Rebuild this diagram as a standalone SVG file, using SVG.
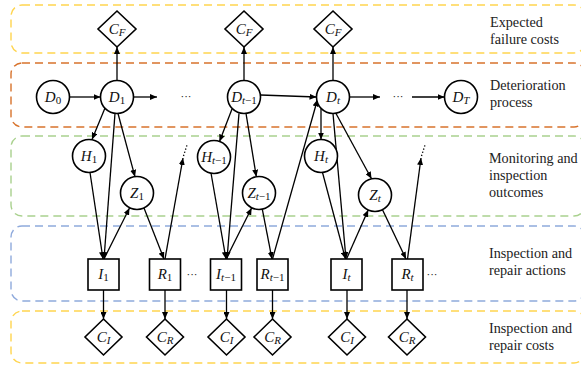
<svg xmlns="http://www.w3.org/2000/svg" width="581" height="365" viewBox="0 0 581 365">
<style>
.box{fill:none;stroke-width:1.4;stroke-dasharray:8 5}
.n{fill:#fff;stroke:#000;stroke-width:1.6}
.t{font-family:"Liberation Serif","Times New Roman",serif;font-size:15px;font-style:italic;text-anchor:middle;fill:#111}
.s{font-size:11px}
.u{font-style:normal}
.lab{font-family:"Liberation Serif","Times New Roman",serif;font-size:14.2px;fill:#222}
.e{fill:none;stroke:#000;stroke-width:1.3;marker-end:url(#ah)}
.d{fill:none;stroke:#000;stroke-width:1.3;stroke-dasharray:1.3 2}
.dots{font-family:"Liberation Sans",Arial,sans-serif;font-size:11px;fill:#222;text-anchor:middle}
</style>
<defs>
<marker id="ah" markerUnits="userSpaceOnUse" markerWidth="8" markerHeight="6" refX="7" refY="3" orient="auto">
<path d="M0,0 L7,3 L0,6 z" fill="#000"/>
</marker>
</defs>
<g id="lanes">
<rect class="box" x="11" y="5" width="574" height="48" rx="11" stroke="#FFD54F"/>
<rect class="box" x="11" y="63" width="574" height="64" rx="11" stroke="#D8732C"/>
<rect class="box" x="11" y="136" width="574" height="80" rx="11" stroke="#A9D18E"/>
<rect class="box" x="11" y="226" width="574" height="75" rx="11" stroke="#8FAADC"/>
<rect class="box" x="11" y="311" width="574" height="52" rx="11" stroke="#FFD54F"/>
</g>
<g id="lane-labels">
<text class="lab" x="490" y="27">Expected</text>
<text class="lab" x="490" y="44">failure costs</text>
<text class="lab" x="490" y="90">Deterioration</text>
<text class="lab" x="490" y="107">process</text>
<text class="lab" x="489" y="163">Monitoring and</text>
<text class="lab" x="489" y="180">inspection</text>
<text class="lab" x="489" y="197">outcomes</text>
<text class="lab" x="489" y="258">Inspection and</text>
<text class="lab" x="489" y="275">repair actions</text>
<text class="lab" x="489" y="333">Inspection and</text>
<text class="lab" x="489" y="350">repair costs</text>
</g>
<g id="connectors">
<line class="e" x1="69.5" y1="97" x2="100.5" y2="97"/>
<line class="e" x1="133.5" y1="97" x2="157" y2="97"/>
<line class="e" x1="260.5" y1="95" x2="316.5" y2="97"/>
<line class="e" x1="349.5" y1="97" x2="380" y2="97"/>
<line class="e" x1="412" y1="97" x2="444.5" y2="97"/>
<line class="e" x1="117" y1="80.5" x2="117" y2="47"/>
<line class="e" x1="244" y1="80.5" x2="244" y2="47"/>
<line class="e" x1="333" y1="80.5" x2="333" y2="47"/>
<line class="e" x1="105" y1="108" x2="92" y2="139.5"/>
<line class="e" x1="115" y1="113.4" x2="104" y2="259"/>
<line class="e" x1="118" y1="113.5" x2="135" y2="176.8"/>
<line class="e" x1="90" y1="172.5" x2="103" y2="259"/>
<line class="e" x1="104" y1="259" x2="129.5" y2="208"/>
<line class="e" x1="144" y1="208" x2="164" y2="259"/>
<line class="e" x1="165" y1="259" x2="183" y2="158"/>
<line class="d" x1="183.5" y1="156" x2="187" y2="145"/>
<line class="e" x1="232" y1="109" x2="219.5" y2="141.5"/>
<line class="e" x1="239" y1="113.4" x2="227" y2="259"/>
<line class="e" x1="246" y1="113.4" x2="256.3" y2="176.7"/>
<line class="e" x1="211" y1="173" x2="226" y2="259"/>
<line class="e" x1="226" y1="259" x2="251.6" y2="208"/>
<line class="e" x1="262.3" y1="209.2" x2="272" y2="259"/>
<line class="e" x1="272.5" y1="259" x2="317.5" y2="99.5"/>
<line class="e" x1="321" y1="108.5" x2="321" y2="139.5"/>
<line class="e" x1="333" y1="113.5" x2="346" y2="259"/>
<line class="e" x1="336" y1="113.5" x2="371.5" y2="178.8"/>
<line class="e" x1="322.5" y1="172.5" x2="345.5" y2="259"/>
<line class="e" x1="346.5" y1="259" x2="368.2" y2="210"/>
<line class="e" x1="382.5" y1="209.7" x2="406" y2="259"/>
<line class="e" x1="407.5" y1="259" x2="421" y2="158"/>
<line class="d" x1="421.5" y1="156" x2="425" y2="145"/>
<line class="e" x1="103.5" y1="290" x2="103.5" y2="319"/>
<line class="e" x1="165" y1="290" x2="165" y2="319"/>
<line class="e" x1="226.5" y1="290" x2="226.5" y2="319"/>
<line class="e" x1="272.5" y1="290" x2="272.5" y2="319"/>
<line class="e" x1="347" y1="290" x2="347" y2="319"/>
<line class="e" x1="407" y1="290" x2="407" y2="319"/>
</g>
<g id="ellipses">
<text class="dots" x="186" y="100">···</text>
<text class="dots" x="398" y="100">···</text>
<text class="dots" x="192" y="278">···</text>
<text class="dots" x="432" y="278">···</text>
</g>
<g id="CF1"><path class="n" d="M117,11 L136,29 L117,47 L98,29 z"/><text class="t" x="117" y="33.5">C<tspan class="s" dy="2.5">F</tspan></text></g>
<g id="CF2"><path class="n" d="M244,11 L263,29 L244,47 L225,29 z"/><text class="t" x="244" y="33.5">C<tspan class="s" dy="2.5">F</tspan></text></g>
<g id="CF3"><path class="n" d="M333,11 L352,29 L333,47 L314,29 z"/><text class="t" x="333" y="33.5">C<tspan class="s" dy="2.5">F</tspan></text></g>
<g id="D0"><circle class="n" cx="53" cy="97" r="16.5"/><text class="t" x="53" y="101.5">D<tspan class="s u" dy="2.5">0</tspan></text></g>
<g id="D1"><circle class="n" cx="117" cy="97" r="16.5"/><text class="t" x="117" y="101.5">D<tspan class="s u" dy="2.5">1</tspan></text></g>
<g id="Dtm1"><circle class="n" cx="244" cy="97" r="16.5"/><text class="t" x="244" y="101.5">D<tspan class="s" dy="2.5">t</tspan><tspan class="s u">−1</tspan></text></g>
<g id="Dt"><circle class="n" cx="333" cy="97" r="16.5"/><text class="t" x="333" y="101.5">D<tspan class="s" dy="2.5">t</tspan></text></g>
<g id="DT"><circle class="n" cx="461" cy="97" r="16.5"/><text class="t" x="461" y="101.5">D<tspan class="s" dy="2.5">T</tspan></text></g>
<g id="H1"><circle class="n" cx="89" cy="156" r="16.5"/><text class="t" x="89" y="160.5">H<tspan class="s u" dy="2.5">1</tspan></text></g>
<g id="Z1"><circle class="n" cx="137" cy="193" r="16.5"/><text class="t" x="137" y="197.5">Z<tspan class="s u" dy="2.5">1</tspan></text></g>
<g id="Htm1"><circle class="n" cx="214" cy="157" r="16.5"/><text class="t" x="214" y="161.5">H<tspan class="s" dy="2.5">t</tspan><tspan class="s u">−1</tspan></text></g>
<g id="Ztm1"><circle class="n" cx="259" cy="193" r="16.5"/><text class="t" x="259" y="197.5">Z<tspan class="s" dy="2.5">t</tspan><tspan class="s u">−1</tspan></text></g>
<g id="Ht"><circle class="n" cx="321" cy="156" r="16.5"/><text class="t" x="321" y="160.5">H<tspan class="s" dy="2.5">t</tspan></text></g>
<g id="Zt"><circle class="n" cx="375" cy="195" r="16.5"/><text class="t" x="375" y="199.5">Z<tspan class="s" dy="2.5">t</tspan></text></g>
<g id="I1"><rect class="n" x="88" y="259" width="31" height="31"/><text class="t" x="103.5" y="278.5">I<tspan class="s u" dy="2.5">1</tspan></text></g>
<g id="R1"><rect class="n" x="149.5" y="259" width="31" height="31"/><text class="t" x="165" y="278.5">R<tspan class="s u" dy="2.5">1</tspan></text></g>
<g id="Itm1"><rect class="n" x="210.5" y="259" width="31" height="31"/><text class="t" x="226" y="278.5">I<tspan class="s" dy="2.5">t</tspan><tspan class="s u">−1</tspan></text></g>
<g id="Rtm1"><rect class="n" x="257" y="259" width="31" height="31"/><text class="t" x="272.5" y="278.5">R<tspan class="s" dy="2.5">t</tspan><tspan class="s u">−1</tspan></text></g>
<g id="It"><rect class="n" x="331" y="259" width="31" height="31"/><text class="t" x="346.5" y="278.5">I<tspan class="s" dy="2.5">t</tspan></text></g>
<g id="Rt"><rect class="n" x="392" y="259" width="31" height="31"/><text class="t" x="407.5" y="278.5">R<tspan class="s" dy="2.5">t</tspan></text></g>
<g id="CI1"><path class="n" d="M103.5,319 L122,337 L103.5,355 L85,337 z"/><text class="t" x="103.5" y="341.5">C<tspan class="s" dy="2.5">I</tspan></text></g>
<g id="CR1"><path class="n" d="M165,319 L183.5,337 L165,355 L146.5,337 z"/><text class="t" x="165" y="341.5">C<tspan class="s" dy="2.5">R</tspan></text></g>
<g id="CI2"><path class="n" d="M226.5,319 L245,337 L226.5,355 L208,337 z"/><text class="t" x="226.5" y="341.5">C<tspan class="s" dy="2.5">I</tspan></text></g>
<g id="CR2"><path class="n" d="M272.5,319 L291,337 L272.5,355 L254,337 z"/><text class="t" x="272.5" y="341.5">C<tspan class="s" dy="2.5">R</tspan></text></g>
<g id="CI3"><path class="n" d="M347,319 L365.5,337 L347,355 L328.5,337 z"/><text class="t" x="347" y="341.5">C<tspan class="s" dy="2.5">I</tspan></text></g>
<g id="CR3"><path class="n" d="M407,319 L425.5,337 L407,355 L388.5,337 z"/><text class="t" x="407" y="341.5">C<tspan class="s" dy="2.5">R</tspan></text></g>
</svg>
